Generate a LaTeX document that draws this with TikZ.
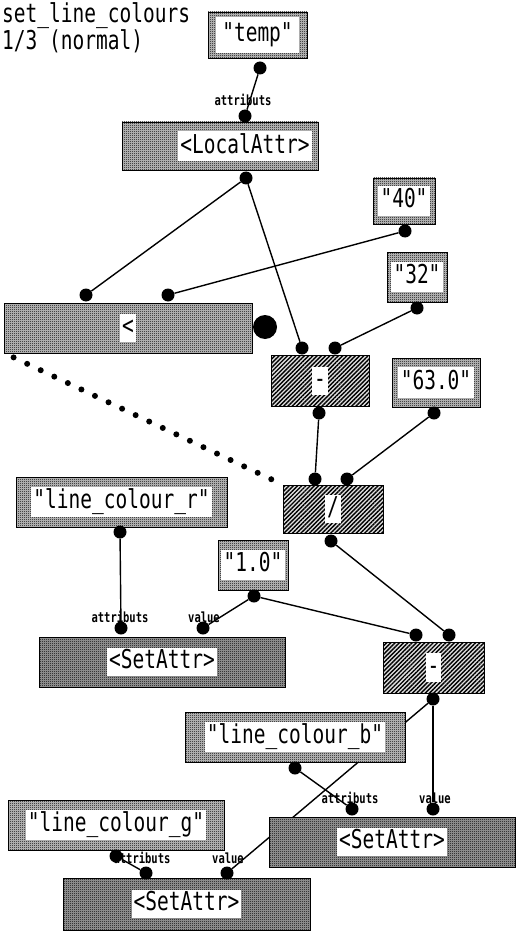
\documentclass[tikz,border=0pt]{standalone}
\usepackage{fontspec}
\newfontfamily\pgfont[FakeStretch=0.75]{DejaVu Sans Mono}
\usepackage{tikz}
\usetikzlibrary{patterns,patterns.meta,backgrounds}

\pgfdeclarepatternformonly{pgchecker}{\pgfqpoint{0pt}{0pt}}{\pgfqpoint{2pt}{2pt}}{\pgfqpoint{2pt}{2pt}}{%
  \pgfpathrectangle{\pgfqpoint{0pt}{0pt}}{\pgfqpoint{1pt}{1pt}}%
  \pgfpathrectangle{\pgfqpoint{1pt}{1pt}}{\pgfqpoint{1pt}{1pt}}%
  \pgfusepath{fill}}

\newcommand\pgtxt[2][2pt]{{\setlength\fboxsep{#1}\colorbox{white}{\vphantom{Ag}#2}}}

\begin{document}
\begin{tikzpicture}[x=1pt,y=-1pt,
  dims/.style 2 args={minimum width=#1pt,minimum height=#2pt},
  box/.style={draw,line width=.8pt,inner sep=0pt,preaction={fill=white},font=\pgfont\fontsize{26}{26}\selectfont},
  cbox/.style={box,preaction={fill=gray!45},pattern=pgchecker},
  opbox/.style={box,preaction={fill=gray!25},pattern={Lines[angle=45,distance=3pt,line width=1.4pt]}},
  mbox/.style={box,preaction={fill=gray!75},pattern=pgchecker},
  term/.style={circle,fill,inner sep=0pt,minimum size=13pt},
  wire/.style={line width=1.4pt},
  synchro/.style={line width=6pt,line cap=round,dash pattern=on 0pt off 15pt},
  lbl/.style={inner sep=0pt,font=\pgfont\bfseries\fontsize{14}{14}\selectfont}]
\useasboundingbox (0,0) rectangle (525,936);

\node[anchor=north west,align=left,inner sep=0pt,font=\pgfont\fontsize{26}{23}\selectfont] (title) at (2,2) {set\_line\_colours\\1/3 (normal)};

% constants
\node[cbox,dims={99}{46}] (temp) at (257.5,35) {\pgtxt[6pt]{"temp"}};
\node[cbox,dims={62}{46}] (forty) at (404,201) {\pgtxt[3pt]{"40"}};
\node[cbox,dims={60}{50}] (thirtytwo) at (417,277) {\pgtxt[3pt]{"32"}};
\node[cbox,dims={88}{49}] (sixtythree) at (436,382.5) {\pgtxt[3pt]{"63.0"}};
\node[cbox,dims={70}{50}] (one) at (253,565) {\pgtxt[3pt]{"1.0"}};
\node[cbox,dims={211}{50}] (colr) at (121.5,502) {\pgtxt{"line\_colour\_r"}};
\node[cbox,dims={220}{50}] (colb) at (295,737) {\pgtxt{"line\_colour\_b"}};
\node[cbox,dims={216}{50}] (colg) at (116,825) {\pgtxt{"line\_colour\_g"}};

% operations
\node[cbox,dims={196}{48}] (local) at (220,146) {\hspace*{50pt}\pgtxt{<LocalAttr>}};
\node[cbox,dims={248}{50}] (less) at (128,328) {\pgtxt{<}};
\node[opbox,dims={98}{51}] (minus) at (320,381) {\pgtxt{-}};
\node[opbox,dims={100}{48}] (divide) at (333,509) {\pgtxt{/}};
\node[opbox,dims={101}{51}] (minustwo) at (433.5,667.5) {\pgtxt{-}};
\node[mbox,dims={246}{50}] (setr) at (162,662) {\pgtxt{<SetAttr>}};
\node[mbox,dims={246}{50}] (setb) at (392,842) {\pgtxt{<SetAttr>}};
\node[mbox,dims={247}{52}] (setg) at (186.5,904) {\pgtxt{<SetAttr>}};

% terminals and roots
\foreach \n/\x/\y in {temp-o/260/68, local-i/245/116, local-o/246/178, forty-o/405/231,
    tt-o/417/308, less-i1/86/295, less-i2/168/295, minus-i1/302/348, minus-i2/335/348,
    minus-o/319/413, sixty-o/434/413, divide-i1/315/479, divide-i2/347/479, divide-o/331/541,
    colr-o/120/532, one-o/254/596, setr-i1/121/628, setr-i2/203/628, minustwo-i1/416/635,
    minustwo-i2/449/635, minustwo-o/433/699, colb-o/295/768, setb-i1/352/809, setb-i2/433/809,
    colg-o/116/856, setg-i1/146/873, setg-i2/227/873}
  \node[term] (\n) at (\x,\y) {};
\node[term,minimum size=24pt] (less-o) at (265,327) {};

\node[lbl] (local-a) at (243,100) {attributs};
\node[lbl] (setr-a) at (120,617) {attributs};
\node[lbl] (setr-v) at (204,617) {value};
\node[lbl] (setb-a) at (350,798) {attributs};
\node[lbl] (setb-v) at (435,798) {value};
\node[lbl] (setg-a) at (142,858) {attributs};
\node[lbl] (setg-v) at (228,858) {value};

\begin{scope}[on background layer]
\foreach \a/\b in {temp-o/local-i, local-o/less-i1, local-o/minus-i1, forty-o/less-i2,
    tt-o/minus-i2, minus-o/divide-i1, sixty-o/divide-i2, colr-o/setr-i1, one-o/setr-i2,
    one-o/minustwo-i1, divide-o/minustwo-i2, minustwo-o/setb-i2, minustwo-o/setg-i2,
    colb-o/setb-i1, colg-o/setg-i1}
  \draw[wire] (\a) -- (\b);
\draw[synchro] ([xshift=10pt,yshift=-4pt]less.south west) -- (divide.north west);
\end{scope}
\end{tikzpicture}
\end{document}
